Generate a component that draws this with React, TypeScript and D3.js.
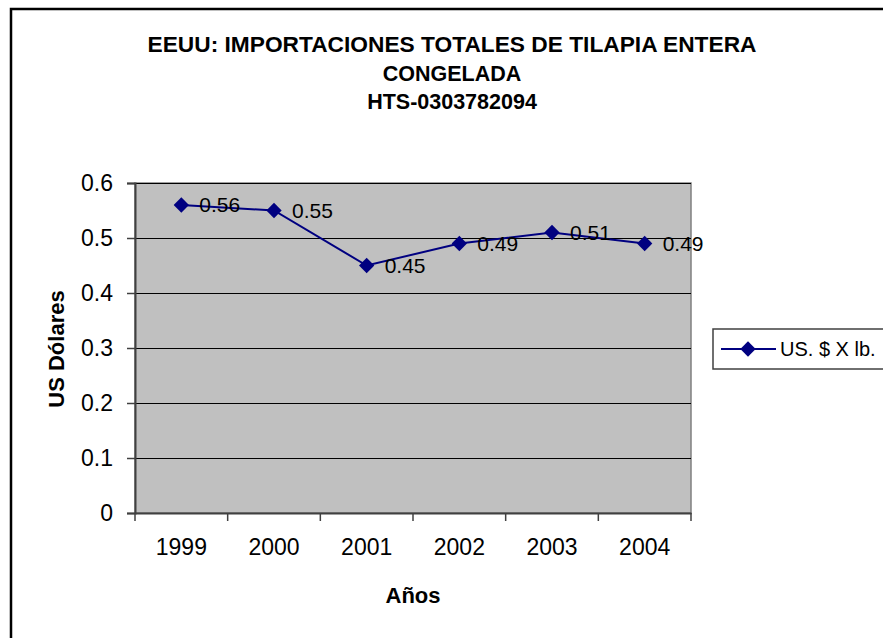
import React, { useRef, useEffect } from "react";
import * as d3 from "d3";

const years = ["1999", "2000", "2001", "2002", "2003", "2004"];
const prices = [0.56, 0.55, 0.45, 0.49, 0.51, 0.49];
const yTicks = [0, 0.1, 0.2, 0.3, 0.4, 0.5, 0.6];
const titleLines = [
  "EEUU: IMPORTACIONES TOTALES DE TILAPIA ENTERA",
  "CONGELADA",
  "HTS-0303782094",
];
const seriesName = "US. $ X lb.";

const App = () => {
  const ref = useRef<SVGSVGElement>(null);
  const width = 883;
  const height = 638;
  const plot = { left: 135, top: 183, right: 691, bottom: 513 };
  const font = "'Liberation Sans', Arial, sans-serif";

  useEffect(() => {
    const svg = d3.select(ref.current);
    svg.selectAll("*").remove();

    // outer frame (runs off right and bottom)
    svg
      .append("rect")
      .attr("x", 11)
      .attr("y", 9)
      .attr("width", width + 20)
      .attr("height", height + 20)
      .attr("fill", "white")
      .attr("stroke", "black")
      .attr("stroke-width", 2.5);

    const x = d3
      .scaleBand()
      .domain(years)
      .range([plot.left, plot.right]);
    const y = d3
      .scaleLinear()
      .domain([0, 0.6])
      .range([plot.bottom, plot.top]);

    // title
    svg
      .append("g")
      .selectAll("text")
      .data(titleLines)
      .join("text")
      .attr("x", 452)
      .attr("y", (d, i) => 52 + i * 28.5)
      .attr("text-anchor", "middle")
      .attr("textLength", (d, i) => (i === 0 ? 609 : null))
      .attr("lengthAdjust", "spacingAndGlyphs")
      .style("font-family", font)
      .style("font-weight", "bold")
      .style("font-size", "21.5px")
      .text((d) => d);

    // plot area
    svg
      .append("rect")
      .attr("x", plot.left)
      .attr("y", plot.top)
      .attr("width", plot.right - plot.left)
      .attr("height", plot.bottom - plot.top)
      .attr("fill", "#c0c0c0")
      .attr("stroke", "#808080")
      .attr("stroke-width", 1.5);

    // gridlines
    svg
      .append("g")
      .selectAll("line")
      .data(yTicks.filter((t) => t > 0))
      .join("line")
      .attr("x1", plot.left)
      .attr("x2", plot.right)
      .attr("y1", (d) => Math.round(y(d)) + 0.5)
      .attr("y2", (d) => Math.round(y(d)) + 0.5)
      .attr("stroke", "black")
      .attr("stroke-width", 1);

    // y axis
    const yAxis = svg
      .append("g")
      .attr("transform", `translate(${plot.left},0)`)
      .call(
        d3
          .axisLeft(y)
          .tickValues(yTicks)
          .tickSize(8)
          .tickPadding(14)
          .tickFormat((d) => String(d))
      );
    yAxis.select(".domain").attr("stroke", "#404040").attr("stroke-width", 2);
    yAxis.selectAll(".tick line").attr("stroke", "#404040").attr("stroke-width", 1.5);
    yAxis
      .selectAll(".tick text")
      .style("font-family", font)
      .style("font-size", "23px")
      .attr("fill", "black");

    // x axis
    const xAxis = svg
      .append("g")
      .attr("transform", `translate(0,${plot.bottom})`)
      .call(d3.axisBottom(x).tickSize(0).tickPadding(26));
    xAxis.select(".domain").attr("stroke", "#404040").attr("stroke-width", 2);
    xAxis
      .selectAll(".tick text")
      .style("font-family", font)
      .style("font-size", "23px")
      .attr("fill", "black");
    // category boundary ticks
    const bounds = years.map((d) => x(d) as number).concat([plot.right]);
    svg
      .append("g")
      .selectAll("line")
      .data(bounds)
      .join("line")
      .attr("x1", (d) => d)
      .attr("x2", (d) => d)
      .attr("y1", plot.bottom)
      .attr("y2", plot.bottom + 8)
      .attr("stroke", "#404040")
      .attr("stroke-width", 1.5);

    // axis titles
    svg
      .append("text")
      .attr("x", 413)
      .attr("y", 603)
      .attr("text-anchor", "middle")
      .style("font-family", font)
      .style("font-weight", "bold")
      .style("font-size", "22px")
      .text("Años");
    svg
      .append("text")
      .attr("transform", "translate(64,349) rotate(-90)")
      .attr("text-anchor", "middle")
      .style("font-family", font)
      .style("font-weight", "bold")
      .style("font-size", "22px")
      .text("US Dólares");

    const cx = (d: string) => (x(d) as number) + x.bandwidth() / 2;
    const diamond = d3.symbol().type(d3.symbolDiamond2).size(150);

    // line
    const line = d3
      .line<number>()
      .x((d, i) => cx(years[i]))
      .y((d) => y(d));
    svg
      .append("path")
      .datum(prices)
      .attr("d", line)
      .attr("fill", "none")
      .attr("stroke", "#000080")
      .attr("stroke-width", 2);

    svg
      .append("g")
      .selectAll("path")
      .data(prices)
      .join("path")
      .attr("transform", (d, i) => `translate(${cx(years[i])},${y(d)})`)
      .attr("d", diamond)
      .attr("fill", "#000080");

    // data labels
    svg
      .append("g")
      .selectAll("text")
      .data(prices)
      .join("text")
      .attr("x", (d, i) => cx(years[i]) + 18)
      .attr("y", (d) => y(d) + 7)
      .style("font-family", font)
      .style("font-size", "21px")
      .text((d) => String(d));

    // legend
    const lg = svg.append("g");
    lg.append("rect")
      .attr("x", 713)
      .attr("y", 329)
      .attr("width", 200)
      .attr("height", 40)
      .attr("fill", "white")
      .attr("stroke", "#404040")
      .attr("stroke-width", 1.5);
    lg.append("line")
      .attr("x1", 721)
      .attr("x2", 776)
      .attr("y1", 349)
      .attr("y2", 349)
      .attr("stroke", "#000080")
      .attr("stroke-width", 2);
    lg.append("path")
      .attr("transform", "translate(748,349)")
      .attr("d", diamond)
      .attr("fill", "#000080");
    lg.append("text")
      .attr("x", 780)
      .attr("y", 356)
      .style("font-family", font)
      .style("font-size", "20px")
      .text(seriesName);
  }, []);

  return (
    <svg
      ref={ref}
      width={width}
      height={height}
      style={{ position: "absolute", left: 0, top: 0 }}
    ></svg>
  );
};

export default App;
